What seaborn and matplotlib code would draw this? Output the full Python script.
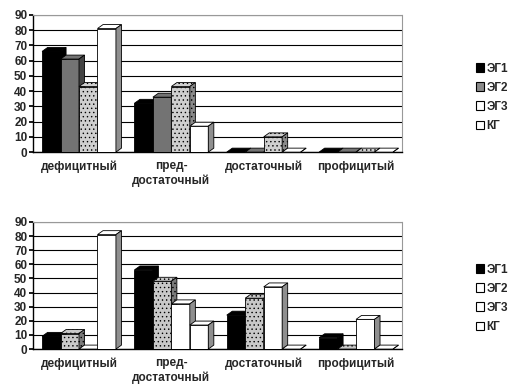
import pandas as pd
import numpy as np
import matplotlib
matplotlib.use('Agg')
import matplotlib.pyplot as plt
from matplotlib.patches import Polygon, Patch
import seaborn as sns

# categories and groups
levels = ['дефицитный', 'пред-\nдостаточный', 'достаточный', 'профицитый']
groups = ['ЭГ1', 'ЭГ2', 'ЭГ3', 'КГ']

# upper chart values (%)
top_eg1 = [66, 32, 0, 0]
top_eg2 = [61, 36, 0, 0]
top_eg3 = [43, 43, 10, 0]
top_kg = [81, 17, 0, 0]

# lower chart values (%)
bot_eg1 = [9, 56, 24, 8]
bot_eg2 = [11, 48, 36, 0]
bot_eg3 = [0, 32, 44, 21]
bot_kg = [81, 17, 0, 0]

sns.set_theme(style='white')
plt.rcParams['font.family'] = ['Liberation Sans', 'DejaVu Sans']
plt.rcParams['font.weight'] = 'bold'
plt.rcParams['hatch.linewidth'] = 0.5


def make_df(series):
    rows = []
    for g, vals in zip(groups, series):
        for lv, v in zip(levels, vals):
            rows.append({'level': lv, 'group': g, 'value': v})
    return pd.DataFrame(rows)


# style per group: (front, side, hatch)
style_top = [('black', 'black', None), ('#737373', '#444444', None),
             ('#cfcfcf', '#8a8a8a', '....'), ('white', '#8f8f8f', None)]
style_bot = [('black', 'black', None), ('#c8c8c8', '#7a7a7a', '....'),
             ('white', '#8f8f8f', None), ('white', '#8f8f8f', None)]
legend_top = ['black', '#8a8a8a', 'white', 'white']
legend_bot = ['black', 'white', 'white', 'white']


def draw(ax, df, styles, leg_colors, dy):
    sns.barplot(data=df, x='level', y='value', hue='group', hue_order=groups,
                order=levels, palette=['white'] * 4, saturation=1,
                edgecolor='black', linewidth=0.6, errorbar=None, ax=ax, legend=False)
    ax.set_ylim(0, 90)
    ax.set_xlim(-0.5, 3.5)
    # fake 3D: top and side faces for every bar
    for i, cont in enumerate(ax.containers):
        front, side, hatch = styles[i]
        z = 3 + i * 0.1
        for p in cont.patches:
            p.set_facecolor(front)
            p.set_zorder(z)
            if hatch:
                p.set_hatch(hatch)
            x0, y0 = p.get_x(), p.get_y()
            w, h = p.get_width(), p.get_height()
            dx = w * 0.3
            x1, y1 = x0 + w, y0 + h
            topf = Polygon([(x0, y1), (x1, y1), (x1 + dx, y1 + dy), (x0 + dx, y1 + dy)],
                           closed=True, facecolor=front, edgecolor='black',
                           linewidth=0.6, zorder=z, clip_on=False, hatch=hatch)
            sidef = Polygon([(x1, y0), (x1 + dx, y0 + dy), (x1 + dx, y1 + dy), (x1, y1)],
                            closed=True, facecolor=side, edgecolor='black',
                            linewidth=0.6, zorder=z, clip_on=False, hatch=hatch)
            ax.add_patch(topf)
            ax.add_patch(sidef)
    ax.set_yticks(range(0, 91, 10))
    ax.yaxis.grid(True, color='black', linewidth=0.8, zorder=0)
    ax.set_axisbelow(True)
    ax.set_xticks(np.arange(-0.5, 4, 1), minor=True)
    ax.tick_params(axis='x', which='major', length=0, labelsize=8.5, pad=6)
    ax.tick_params(axis='x', which='minor', length=4, color='black', direction='out')
    ax.tick_params(axis='y', length=3, color='black', direction='out', labelsize=8.5,
                   pad=1, left=True)
    for lbl in ax.get_xticklabels() + ax.get_yticklabels():
        lbl.set_fontweight('bold')
    ax.set_xlabel('')
    ax.set_ylabel('')
    for s in ['left', 'bottom']:
        ax.spines[s].set_color('black')
        ax.spines[s].set_linewidth(1.0)
    for s in ['top', 'right']:
        ax.spines[s].set_color('#999999')
        ax.spines[s].set_linestyle((0, (2, 1)))
        ax.spines[s].set_linewidth(0.8)
    handles = [Patch(facecolor=c, edgecolor='black', linewidth=0.8) for c in leg_colors]
    ax.legend(handles, groups, loc='center left', bbox_to_anchor=(1.18, 0.4),
              frameon=False, handlelength=0.7, handleheight=0.7, handletextpad=0.2,
              labelspacing=0.6, borderpad=0.1, prop={'weight': 'bold', 'size': 8.5})


fig = plt.figure(figsize=(5.13, 3.9), dpi=100)
ax1 = fig.add_axes([0.064, 0.61, 0.72, 0.352])
ax2 = fig.add_axes([0.064, 0.105, 0.72, 0.326])

draw(ax1, make_df([top_eg1, top_eg2, top_eg3, top_kg]), style_top, legend_top, 2.6)
draw(ax2, make_df([bot_eg1, bot_eg2, bot_eg3, bot_kg]), style_bot, legend_bot, 2.8)

fig.savefig('out.png', dpi=100, facecolor='white')
